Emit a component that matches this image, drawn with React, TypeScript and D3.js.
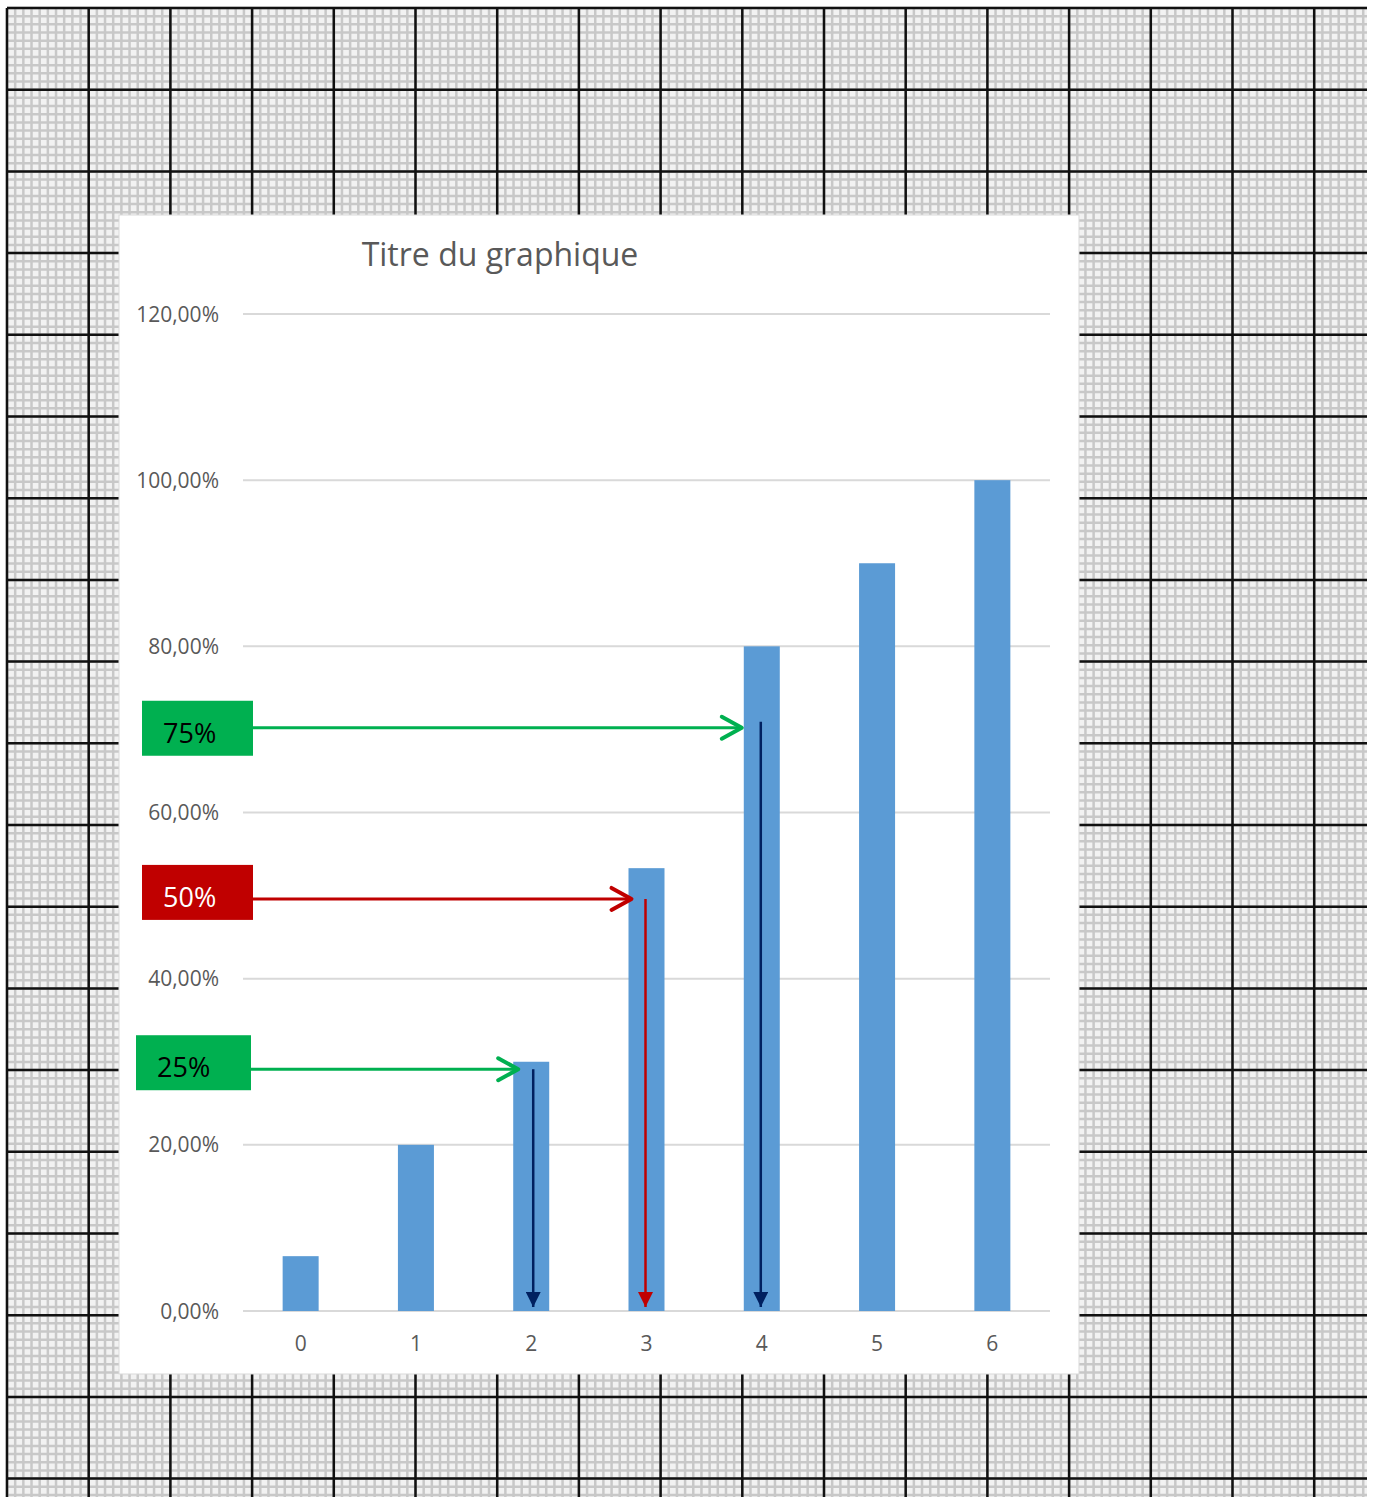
import React, { useEffect, useRef } from 'react';
import * as d3 from 'd3';

const categories = ['0', '1', '2', '3', '4', '5', '6'];
const values = [0.066, 0.2, 0.3, 0.533, 0.8, 0.9, 1.0];
const yTicks = [0, 0.2, 0.4, 0.6, 0.8, 1.0, 1.2];

// annotation boxes + arrows: label, level on the y scale, target bar
const notes = [
  { label: '75%', level: 0.702, bar: 4, fill: '#00B050', text: '#000', arrow: '#00B050', drop: '#002060' },
  { label: '50%', level: 0.496, bar: 3, fill: '#C00000', text: '#fff', arrow: '#C00000', drop: '#C00000' },
  { label: '25%', level: 0.291, bar: 2, fill: '#00B050', text: '#000', arrow: '#00B050', drop: '#002060' },
];

const W = 1376;
const H = 1497;

export default function App() {
  const svgRef = useRef<SVGSVGElement>(null);

  useEffect(() => {
    if (!svgRef.current) return;
    const svg = d3.select(svgRef.current);
    svg.selectAll('*').remove();

    // graph paper background
    const paper = { x0: 7, y0: 8, x1: 1367, y1: H, step: 81.7 };
    const minor = paper.step / 10;
    const bg = svg.append('g');
    bg.append('rect')
      .attr('x', paper.x0).attr('y', paper.y0)
      .attr('width', paper.x1 - paper.x0).attr('height', paper.y1 - paper.y0)
      .attr('fill', '#f2f2f2');

    const minorX = d3.range(paper.x0, paper.x1, minor);
    const minorY = d3.range(paper.y0, paper.y1, minor);
    bg.selectAll('line.mx').data(minorX).enter().append('line')
      .attr('x1', d => d).attr('x2', d => d)
      .attr('y1', paper.y0).attr('y2', paper.y1)
      .attr('stroke', '#c8c8c8').attr('stroke-width', 2.5);
    bg.selectAll('line.my').data(minorY).enter().append('line')
      .attr('y1', d => d).attr('y2', d => d)
      .attr('x1', paper.x0).attr('x2', paper.x1)
      .attr('stroke', '#c8c8c8').attr('stroke-width', 2.5);

    const majorX = d3.range(paper.x0, paper.x1, paper.step);
    const majorY = d3.range(paper.y0, paper.y1, paper.step);
    bg.selectAll('line.Mx').data(majorX).enter().append('line')
      .attr('x1', d => d).attr('x2', d => d)
      .attr('y1', paper.y0).attr('y2', paper.y1)
      .attr('stroke', '#111').attr('stroke-width', 2.5);
    bg.selectAll('line.My').data(majorY).enter().append('line')
      .attr('y1', d => d).attr('y2', d => d)
      .attr('x1', paper.x0).attr('x2', paper.x1)
      .attr('stroke', '#111').attr('stroke-width', 2.5);

    // chart area
    svg.append('rect')
      .attr('x', 119).attr('y', 215)
      .attr('width', 960).attr('height', 1159)
      .attr('fill', '#fff')
      .attr('stroke', '#d9d9d9').attr('stroke-width', 1);

    const font = "'Open Sans', sans-serif";

    svg.append('text')
      .attr('x', 500).attr('y', 266)
      .attr('text-anchor', 'middle')
      .attr('font-family', font).attr('font-size', 32)
      .attr('fill', '#595959')
      .text('Titre du graphique');

    const x = d3.scaleBand().domain(categories).range([243, 1050]).paddingInner(0).paddingOuter(0);
    const y = d3.scaleLinear().domain([0, 1.2]).range([1311, 314]);
    const barW = 36;

    // gridlines
    svg.append('g').selectAll('line').data(yTicks).enter().append('line')
      .attr('x1', 243).attr('x2', 1050)
      .attr('y1', d => y(d)).attr('y2', d => y(d))
      .attr('stroke', '#d9d9d9').attr('stroke-width', 2);

    const fmt = (v: number) => (v * 100).toFixed(2).replace('.', ',') + '%';
    svg.append('g').selectAll('text').data(yTicks).enter().append('text')
      .attr('x', 219).attr('y', d => y(d))
      .attr('dy', '0.36em')
      .attr('text-anchor', 'end')
      .attr('font-family', font).attr('font-size', 21)
      .attr('fill', '#595959')
      .text(d => fmt(d));

    svg.append('g').selectAll('text').data(categories).enter().append('text')
      .attr('x', d => (x(d) as number) + x.bandwidth() / 2)
      .attr('y', 1343)
      .attr('dy', '0.36em')
      .attr('text-anchor', 'middle')
      .attr('font-family', font).attr('font-size', 21)
      .attr('fill', '#595959')
      .text(d => d);

    // bars
    svg.append('g').selectAll('rect').data(values).enter().append('rect')
      .attr('x', (d, i) => (x(categories[i]) as number) + x.bandwidth() / 2 - barW / 2)
      .attr('y', d => y(d))
      .attr('width', barW)
      .attr('height', d => y(0) - y(d))
      .attr('fill', '#5B9BD5');

    // annotations
    const defs = svg.append('defs');
    notes.forEach((n, i) => {
      defs.append('marker')
        .attr('id', `tri-${i}`)
        .attr('viewBox', '0 0 10 10')
        .attr('refX', 10).attr('refY', 5)
        .attr('markerUnits', 'userSpaceOnUse')
        .attr('markerWidth', 15).attr('markerHeight', 15)
        .attr('orient', 'auto')
        .append('path').attr('d', 'M0,0L10,5L0,10Z').attr('fill', n.drop);
    });

    notes.forEach((n, i) => {
      const cy = y(n.level);
      const cx = (x(categories[n.bar]) as number) + x.bandwidth() / 2;
      const left = cx - barW / 2;
      const boxX = i === 2 ? 136 : 142;
      const boxW = i === 2 ? 115 : 111;
      const boxY = i === 0 ? cy - 27 : cy - 34;
      const g = svg.append('g');

      g.append('rect')
        .attr('x', boxX).attr('y', boxY)
        .attr('width', boxW).attr('height', 55)
        .attr('fill', n.fill);
      g.append('text')
        .attr('x', boxX + 21).attr('y', boxY + 42)
        .attr('font-family', font).attr('font-size', 27)
        .attr('fill', n.text)
        .text(n.label);

      const tip = left + [-2, 3, 5][i];
      g.append('line')
        .attr('x1', boxX + boxW).attr('x2', tip - 2)
        .attr('y1', cy).attr('y2', cy)
        .attr('stroke', n.arrow).attr('stroke-width', 3);
      g.append('path')
        .attr('d', `M${tip - 20},${cy - 11}L${tip},${cy}L${tip - 20},${cy + 11}`)
        .attr('fill', 'none')
        .attr('stroke', n.arrow).attr('stroke-width', 4)
        .attr('stroke-linecap', 'round').attr('stroke-linejoin', 'round');

      const vx = cx + [-1, -1, 2][i];
      g.append('line')
        .attr('x1', vx).attr('x2', vx)
        .attr('y1', cy - (i === 0 ? 6 : 0)).attr('y2', y(0) - 4)
        .attr('stroke', n.drop).attr('stroke-width', 2.5)
        .attr('marker-end', `url(#tri-${i})`);
    });
  }, []);

  return (
    <svg
      ref={svgRef}
      width={W}
      height={H}
      style={{ position: 'absolute', left: 0, top: 0, background: '#fff' }}
    />
  );
}
